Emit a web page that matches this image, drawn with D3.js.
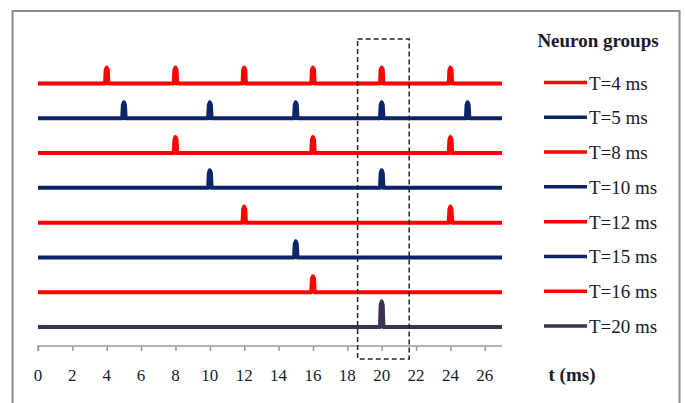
<!DOCTYPE html>
<html lang="en">
<head>
    <meta charset="UTF-8">
    <title>Neuron groups spike trains</title>
    <script src="https://d3js.org/d3.v7.min.js"></script>
    <style>
        body { margin: 0; background: white; }
        text { font-family: "Liberation Serif", "Times New Roman", serif; fill: #1a1a2a; }
        .tick-label { font-size: 17px; }
        .legend-label { font-size: 19px; }
        .bold { font-weight: bold; font-size: 19px; }
    </style>
</head>
<body>
    <div id="chart"></div>
    <script>
        // neuron groups (period in ms) and their spike times
        const periods = [4, 5, 8, 10, 12, 15, 16, 20];
        const labels = ["T=4 ms", "T=5 ms", "T=8 ms", "T=10 ms", "T=12 ms", "T=15 ms", "T=16 ms", "T=20 ms"];
        const spikeTimes = [
            [4, 8, 12, 16, 20, 24],
            [5, 10, 15, 20, 25],
            [8, 16, 24],
            [10, 20],
            [12, 24],
            [15],
            [16],
            [20]
        ];
        const spikeHeights = [1, 1, 1, 1.1, 1, 1, 1, 1.6];
        const colors = ["#ff0000", "#0b2566", "#ff0000", "#0b2566", "#ff0000", "#0b2566", "#ff0000", "#3f3152"];
        const tickValues = [0, 2, 4, 6, 8, 10, 12, 14, 16, 18, 20, 22, 24, 26];
        const tMax = 27;
        const box = [18.6, 21.6];

        const width = 685, height = 403;

        const svg = d3.select("#chart")
            .append("svg")
            .attr("width", width)
            .attr("height", height);

        // outer frame
        svg.append("rect")
            .attr("x", 12.5)
            .attr("y", 11)
            .attr("width", 667)
            .attr("height", 420)
            .attr("fill", "none")
            .attr("stroke", "#8c8c8c")
            .attr("stroke-width", 2);

        const x = d3.scaleLinear()
            .domain([0, tMax])
            .range([38, 502]);

        const row = d3.scalePoint()
            .domain(periods)
            .range([83.5, 327]);

        const amp = d3.scaleLinear()
            .domain([0, 1])
            .range([0, 16]);

        const halfWidth = 0.1;

        function trainPoints(times, h) {
            const pts = [[0, 0]];
            times.forEach(t => {
                pts.push([t - halfWidth, 0]);
                pts.push([t - halfWidth * 0.6, h * 0.85]);
                pts.push([t, h]);
                pts.push([t + halfWidth * 0.6, h * 0.85]);
                pts.push([t + halfWidth, 0]);
            });
            pts.push([tMax, 0]);
            return pts;
        }

        periods.forEach((p, i) => {
            const line = d3.line()
                .x(d => x(d[0]))
                .y(d => row(p) - amp(d[1]));
            svg.append("path")
                .attr("d", line(trainPoints(spikeTimes[i], spikeHeights[i])))
                .attr("fill", "none")
                .attr("stroke", colors[i])
                .attr("stroke-width", 4)
                .attr("stroke-linejoin", "round");
        });

        // x axis
        const axisY = 346;
        const axis = svg.append("g")
            .attr("transform", `translate(0,${axisY})`)
            .call(d3.axisBottom(x).tickValues(tickValues).tickSize(5).tickFormat(""));
        axis.select(".domain")
            .attr("d", `M${x(0)},5V0H${x(tMax)}`)
            .attr("stroke", "#9a9a9a")
            .attr("stroke-width", 1.5);
        axis.selectAll(".tick line").attr("stroke", "#9a9a9a").attr("stroke-width", 1.5);

        svg.append("g")
            .selectAll("text")
            .data(tickValues)
            .join("text")
            .attr("class", "tick-label")
            .attr("x", d => x(d))
            .attr("y", 381)
            .attr("text-anchor", "middle")
            .text(d => d);

        svg.append("text")
            .attr("class", "bold")
            .attr("x", 572)
            .attr("y", 381)
            .attr("text-anchor", "middle")
            .text("t (ms)");

        // dashed highlight box
        svg.append("rect")
            .attr("x", x(box[0]))
            .attr("y", 39)
            .attr("width", x(box[1]) - x(box[0]))
            .attr("height", 320)
            .attr("fill", "none")
            .attr("stroke", "#222")
            .attr("stroke-width", 1.5)
            .attr("stroke-dasharray", "5,3");

        // legend
        svg.append("text")
            .attr("class", "bold")
            .attr("x", 598)
            .attr("y", 47)
            .attr("text-anchor", "middle")
            .text("Neuron groups");

        const legend = svg.append("g")
            .selectAll("g")
            .data(periods)
            .join("g")
            .attr("transform", d => `translate(0,${row(d) - 1})`);

        legend.append("line")
            .attr("x1", 544)
            .attr("x2", 587)
            .attr("stroke", (d, i) => colors[i])
            .attr("stroke-width", 3.5);

        legend.append("text")
            .attr("class", "legend-label")
            .attr("x", 589)
            .attr("y", 7)
            .text((d, i) => labels[i]);
    </script>
</body>
</html>
